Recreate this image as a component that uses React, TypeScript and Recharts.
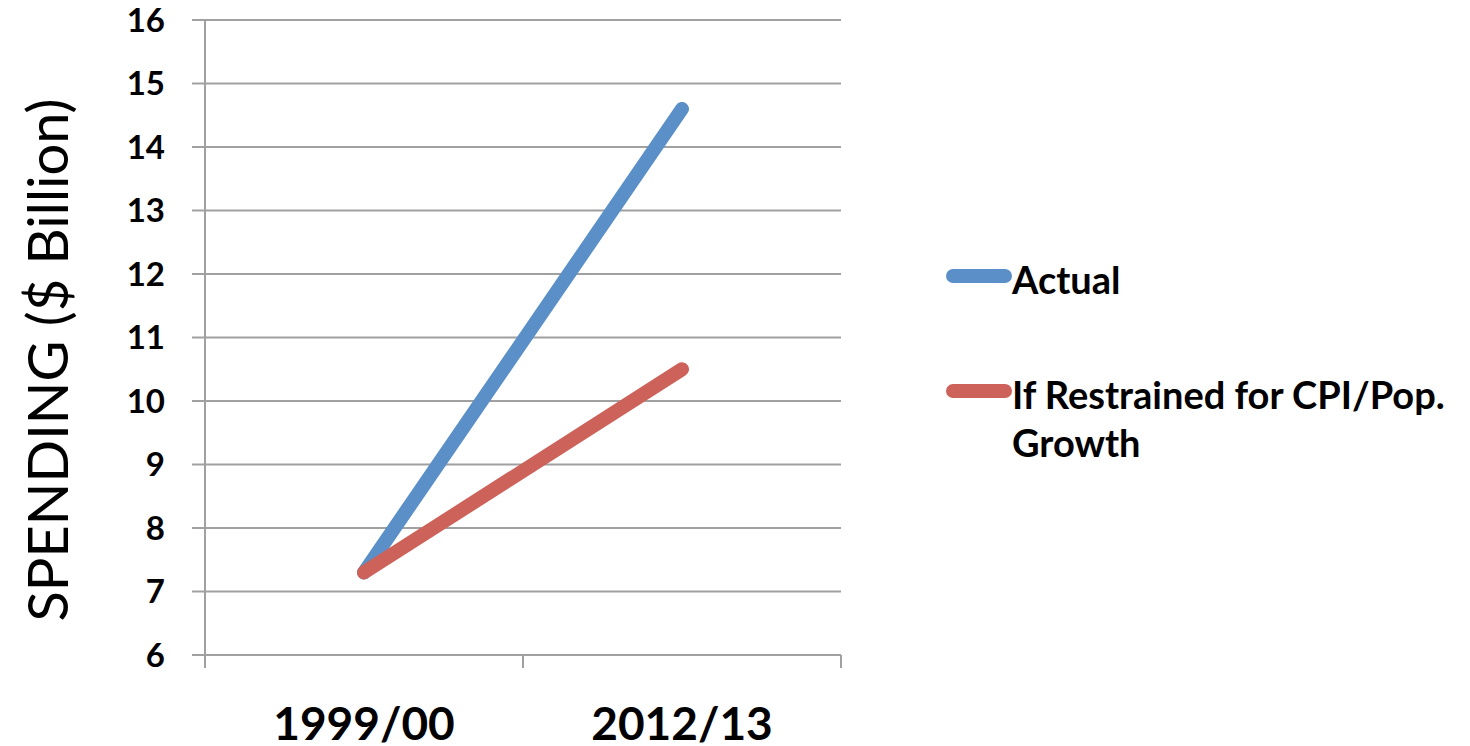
import { LineChart, Line, XAxis, YAxis, CartesianGrid } from "recharts";

const categories = ["1999/00", "2012/13"];
const actual = [7.3, 14.6];
const restrained = [7.3, 10.5];
const yTicks = [6, 7, 8, 9, 10, 11, 12, 13, 14, 15, 16];
const xTicks = [0, 0.5, 1, 1.5, 2];

const seriesNames = ["Actual", "If Restrained for CPI/Pop. Growth"];
const seriesColors = ["#5b8fc8", "#cc625a"];

const FONT = "Lato, 'Open Sans', sans-serif";

// points sit in the middle of each category slot, like Excel
const data = categories.map((c, i) => ({
  x: i + 0.5,
  year: c,
  actual: actual[i],
  restrained: restrained[i],
}));

const XTick = (props: any) => {
  const { x, y, payload } = props;
  const v = payload.value as number;
  if (Number.isInteger(v)) {
    return <line x1={x} x2={x} y1={y} y2={y + 13} stroke="#a0a0a0" strokeWidth={2} />;
  }
  const label = categories[Math.floor(v)];
  return (
    <text x={x} y={y + 85} textAnchor="middle" fontFamily={FONT} fontWeight={700} fontSize={46} fill="#000">
      {label}
    </text>
  );
};

const LegendBox = () => (
  <div
    style={{
      position: "absolute",
      left: 946,
      top: 255,
      width: 524,
      fontFamily: FONT,
      fontWeight: 700,
      fontSize: 38,
      color: "#000",
      lineHeight: "48px",
    }}
  >
    <div style={{ display: "flex", alignItems: "flex-start" }}>
      <div style={{ width: 66, height: 14, borderRadius: 7, background: seriesColors[0], marginTop: 14, flexShrink: 0 }} />
      <div>{seriesNames[0]}</div>
    </div>
    <div style={{ display: "flex", alignItems: "flex-start", marginTop: 67 }}>
      <div style={{ width: 66, height: 14, borderRadius: 7, background: seriesColors[1], marginTop: 14, flexShrink: 0 }} />
      <div>{seriesNames[1]}</div>
    </div>
  </div>
);

export default function App() {
  return (
    <div style={{ position: "absolute", left: 0, top: 0, width: 1470, height: 746, background: "#fff" }}>
      <LineChart
        width={1470}
        height={746}
        data={data}
        margin={{ top: 20, right: 629, bottom: 0, left: 0 }}
      >
        <CartesianGrid vertical={false} stroke="#a0a0a0" strokeWidth={2} />
        <XAxis
          dataKey="x"
          type="number"
          domain={[0, 2]}
          ticks={xTicks}
          interval={0}
          tickSize={0}
          tickMargin={0}
          tickLine={false}
          tick={<XTick />}
          axisLine={{ stroke: "#a0a0a0", strokeWidth: 2 }}
          height={91}
        />
        <YAxis
          type="number"
          domain={[6, 16]}
          ticks={yTicks}
          interval={0}
          width={205}
          tickSize={13}
          tickMargin={27}
          tickLine={{ stroke: "#a0a0a0", strokeWidth: 2 }}
          axisLine={{ stroke: "#a0a0a0", strokeWidth: 2 }}
          tick={{ fontFamily: FONT, fontWeight: 700, fontSize: 33, fill: "#000" }}
        />
        <Line
          dataKey="actual"
          name={seriesNames[0]}
          stroke={seriesColors[0]}
          strokeWidth={14}
          strokeLinecap="round"
          dot={false}
          isAnimationActive={false}
        />
        <Line
          dataKey="restrained"
          name={seriesNames[1]}
          stroke={seriesColors[1]}
          strokeWidth={14}
          strokeLinecap="round"
          dot={false}
          isAnimationActive={false}
        />
      </LineChart>
      <LegendBox />
      <div
        style={{
          position: "absolute",
          left: 46,
          top: 360,
          transform: "translate(-50%, -50%) rotate(-90deg)",
          whiteSpace: "nowrap",
          fontFamily: FONT,
          fontSize: 56,
          color: "#000",
        }}
      >
        SPENDING ($ Billion)
      </div>
    </div>
  );
}
